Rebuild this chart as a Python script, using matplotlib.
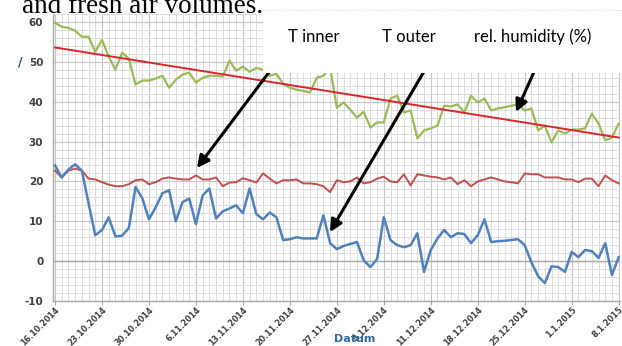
import numpy as np
import matplotlib
matplotlib.use("Agg")
import matplotlib.pyplot as plt
from matplotlib.patches import Rectangle
from matplotlib.lines import Line2D

# daily readings, 16.10.2014 .. 8.1.2015
humidity = [59.8, 58.8, 58.5, 57.8, 56.3, 56.3, 52.5, 55.5, 51.3, 48.0,
            52.3, 50.8, 44.3, 45.3, 45.3, 45.8, 46.5, 43.5, 45.5, 46.8,
            47.3, 44.8, 46.0, 46.5, 46.5, 46.3, 50.3, 47.8, 48.8, 47.5,
            48.5, 48.0, 46.5, 47.0, 44.5, 43.5, 43.0, 42.7, 42.3, 46.0,
            46.5, 48.5, 38.5, 39.8, 38.0, 36.0, 37.5, 33.5, 34.8, 34.8,
            40.8, 41.5, 37.3, 37.8, 30.8, 32.8, 33.3, 34.0, 39.0, 38.8,
            39.3, 37.3, 41.5, 39.8, 40.8, 37.8, 38.3, 38.6, 39.0, 39.3,
            37.8, 38.3, 32.8, 34.0, 29.8, 32.8, 32.0, 33.0, 33.0, 33.3,
            37.0, 34.5, 30.3, 31.0, 34.5]
t_inner = [22.7, 21.0, 22.7, 23.2, 22.7, 20.7, 20.5, 19.8, 19.2, 18.8,
           18.8, 19.3, 20.3, 20.5, 19.3, 19.8, 20.7, 21.0, 20.7, 20.5,
           20.5, 21.5, 20.5, 20.5, 21.0, 18.8, 19.7, 19.8, 20.8, 20.3,
           19.7, 22.0, 20.7, 19.5, 20.3, 20.3, 20.5, 19.5, 19.5, 19.3,
           18.8, 17.3, 20.3, 19.8, 20.0, 21.0, 19.5, 19.8, 20.7, 21.2,
           20.0, 19.8, 21.8, 19.0, 21.8, 21.5, 21.2, 21.0, 20.5, 21.0,
           19.3, 20.3, 18.8, 20.0, 20.5, 21.0, 20.5, 20.0, 19.8, 19.5,
           22.0, 21.8, 21.8, 21.0, 21.0, 21.0, 20.5, 20.5, 19.8, 20.7,
           20.7, 18.8, 21.5, 20.3, 19.5]
t_outer = [24.0, 21.0, 23.0, 24.3, 22.7, 14.5, 6.5, 7.8, 11.0, 6.2,
           6.4, 8.3, 18.6, 15.8, 10.5, 13.5, 17.0, 17.8, 10.0, 14.8,
           15.7, 9.3, 16.5, 18.2, 10.7, 12.5, 13.2, 14.0, 12.0, 18.2,
           11.8, 10.5, 12.2, 11.0, 5.3, 5.5, 6.0, 5.7, 5.7, 5.7,
           11.5, 4.5, 3.0, 3.8, 4.3, 4.8, 0.2, -1.5, 0.5, 11.0,
           5.3, 4.0, 3.5, 4.0, 7.0, -2.7, 2.8, 5.7, 7.8, 6.0,
           7.0, 6.8, 4.5, 6.5, 10.5, 4.8, 5.0, 5.1, 5.3, 5.5,
           4.0, -0.3, -3.8, -5.5, -1.3, -1.5, -2.7, 2.3, 1.0, 2.8,
           2.5, 0.8, 4.5, -3.5, 1.0]
# linear humidity trend, first and last day
trend = [53.6, 31.0]

date_labels = ["16.10.2014", "23.10.2014", "30.10.2014", "6.11.2014",
               "13.11.2014", "20.11.2014", "27.11.2014", "4.12.2014",
               "11.12.2014", "18.12.2014", "25.12.2014", "1.1.2015",
               "8.1.2015"]
y_ticks = [-10, 0, 10, 20, 30, 40, 50, 60]

W, H = 622, 346
fig = plt.figure(figsize=(W / 100, H / 100), dpi=100)
fig.patch.set_facecolor("white")
ax = fig.add_axes([53 / W, 1 - 301 / H, (620 - 53) / W, (301 - 14) / H])

days = np.arange(len(humidity))
ax.set_xlim(-0.3, 84.2)
ax.set_ylim(-10, 62)

# grid: one line per day and every 2 units, heavier every week / 10 units
ax.set_xticks(np.arange(0, 85, 7))
ax.set_xticks(np.arange(0, 85, 1), minor=True)
ax.set_yticks(y_ticks)
ax.set_yticks(np.arange(-10, 63, 2), minor=True)
ax.grid(which="minor", color="#dcdcdc", lw=0.7)
ax.grid(which="major", color="#c4c4c4", lw=0.8)
ax.axhline(0, color="#a8a8a8", lw=1.0, zorder=1)
ax.set_axisbelow(True)
for s in ["top", "right"]:
    ax.spines[s].set_visible(False)
for s in ["left", "bottom"]:
    ax.spines[s].set_color("#a8a8a8")
    ax.spines[s].set_linewidth(1.0)

ax.tick_params(which="minor", length=0)
ax.tick_params(axis="y", which="major", length=0, pad=7)
ax.tick_params(axis="x", which="major", length=3, color="#a8a8a8", pad=0)
ax.set_yticklabels([str(v) for v in y_ticks], fontsize=7.5,
                   fontweight="bold", color="#404040")
ax.set_xticklabels(date_labels, fontsize=5.8, fontweight="bold",
                   color="#404040", rotation=45, ha="right",
                   rotation_mode="anchor")

ax.plot(days, humidity, color="#9bbb59", lw=1.6, zorder=3)
ax.plot(days, t_inner, color="#c0504d", lw=1.4, zorder=3)
ax.plot(days, t_outer, color="#4f81bd", lw=1.8, zorder=3)
ax.plot([days[0], days[-1]], trend, color="#d8262b", lw=1.4, zorder=4)

# blank panel holding the series callouts
fig.add_artist(Rectangle((263 / W, 1 - 73 / H), 1 - 263 / W, 73 / H,
                         transform=fig.transFigure, facecolor="white",
                         edgecolor="none", zorder=5))
fig.add_artist(Line2D([263 / W, 1], [1 - 10 / H, 1 - 10 / H],
                      transform=fig.transFigure, color="#d0d0d0",
                      lw=0.6, ls=(0, (1, 2)), zorder=6))

fig.text(22 / W, 1 - 13 / H, "and fresh air volumes.", fontsize=19.5,
         family="Liberation Serif", color="black", ha="left",
         va="baseline", zorder=7)

fig.text(20 / W, 1 - 62 / H, "/", fontsize=9, fontweight="bold",
         color="#1f4e79", ha="center", va="center")
fig.text(355 / W, 1 - 339 / H, "Datum", fontsize=8, fontweight="bold",
         color="#2e6da4", ha="center", va="center")

labels = [("T inner", 314, 37), ("T outer", 409, 37),
          ("rel. humidity (%)", 533, 37)]
for txt, x, y in labels:
    fig.text(x / W, 1 - y / H, txt, fontsize=12, family="Lato",
             color="black", ha="center", va="center", zorder=8)

arrows = [((285, 51), (197, 168)), ((436, 51), (330, 232)),
          ((543, 52), (516, 112))]
for (x0, y0), (x1, y1) in arrows:
    ax.annotate("", xy=(x1, H - y1), xytext=(x0, H - y0),
                xycoords="figure pixels", textcoords="figure pixels",
                arrowprops=dict(arrowstyle="-|>", color="black", lw=2.2,
                                mutation_scale=18, shrinkA=0, shrinkB=0),
                zorder=9, annotation_clip=False)

fig.savefig("out.png", dpi=100, facecolor="white")
